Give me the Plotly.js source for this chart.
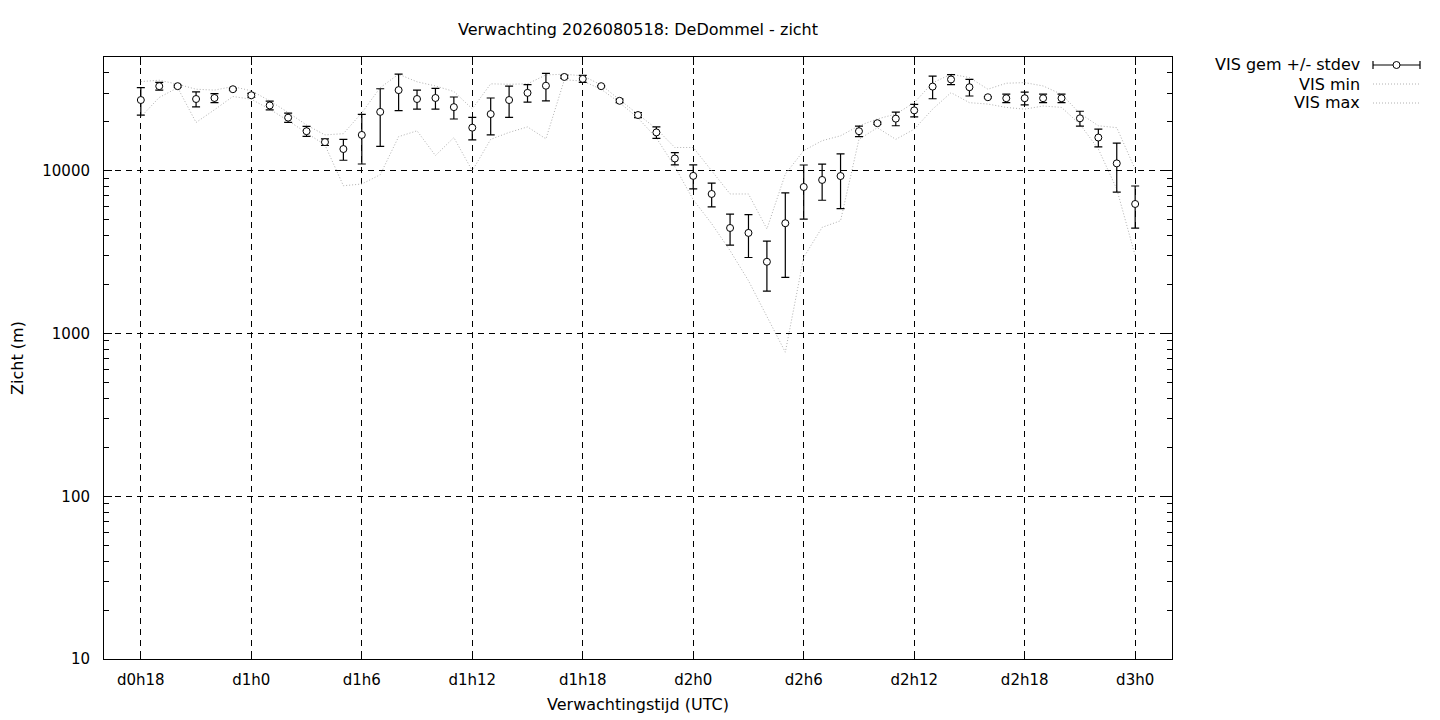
<!DOCTYPE html>
<html>
<head>
<meta charset="utf-8">
<script src="https://cdn.plot.ly/plotly-3.0.1.min.js"></script>
<style>
html,body{margin:0;padding:0;background:#fff;}
#chart{width:1440px;height:720px;}
</style>
</head>
<body>
<div id="chart"></div>
<script>
// ---- data ----
const hours = [18,19,20,21,22,23,24,25,26,27,28,29,30,31,32,33,34,35,36,37,38,39,40,41,42,43,44,45,46,47,48,49,50,51,52,53,54,55,56,57,58,59,60,61,62,63,64,65,66,67,68,69,70,71,72];

const visMean = [27200,33100,33100,27600,28000,31700,29100,25200,21200,17500,
                 15000,13600,16600,23000,31300,27600,28000,24600,18400,22300,
                 27200,30100,33300,37700,36700,33100,26900,22000,17200,11900,
                 9300,7200,4450,4150,2760,4760,7950,8780,9280,17500,
                 19600,20900,23500,32900,36400,32600,28300,27900,27900,27900,
                 27900,21000,16000,11100,6250];

const visStdev = [5200,1800,500,2900,1800,400,800,1550,1400,1250,
                  700,2000,5600,8900,7900,3700,4100,3800,2900,5700,
                  5900,3700,6400,800,1800,300,700,800,1400,1030,
                  1560,1200,960,1220,940,2550,2900,2190,3420,1300,
                  300,2000,2080,5200,2560,3800,300,1650,2500,1650,
                  1650,2200,2000,3700,1810];

const visMin = [21400,28200,32400,19800,23700,28600,27500,23900,20300,17200,
                14400,8090,8290,9450,16200,17600,12400,16000,10000,15600,
                17200,18600,15700,36200,35600,31700,26200,21100,15900,10600,
                6640,4730,3230,2110,1260,768,2940,4490,4930,15600,
                18400,15600,18000,23900,30200,26200,25700,24500,23900,25000,
                24500,19300,13600,7720,3010];

const visMax = [35300,36000,34000,31700,31300,32900,31000,26900,22800,19100,
                16600,16900,22700,32400,39200,35200,33200,30700,24000,34200,
                34000,34200,38800,39200,38300,33700,27300,22100,18100,13900,
                13900,10000,7200,7200,4390,9540,13300,15300,16400,18900,
                20800,22300,26200,34700,39200,37400,31700,34500,34800,33200,
                29500,22500,18900,18400,10200];

const xTickVals = [18,24,30,36,42,48,54,60,66,72];
const xTickText = ['d0h18','d1h0','d1h6','d1h12','d1h18','d2h0','d2h6','d2h12','d2h18','d3h0'];
const yTickVals = [10,100,1000,10000];
const yTickText = ['10','100','1000','10000'];
const yMinorVals = [20,30,40,50,60,70,80,90,200,300,400,500,600,700,800,900,
                    2000,3000,4000,5000,6000,7000,8000,9000,20000,30000,40000];

const legendLabels = ['VIS gem +/- stdev','VIS min','VIS max'];
const titleText = 'Verwachting 2026080518: DeDommel - zicht';
const xTitle = 'Verwachtingstijd (UTC)';
const yTitle = 'Zicht (m)';

// ---- styling ----
const FONT = 'DejaVu Sans';
const DOT_COLOR = '#b0b0b0';
const W = 1440, H = 720;
const M = {l:104, r:268, t:57, b:61};
const PW = W - M.l - M.r, PH = H - M.t - M.b;
const px = x => (x - M.l) / PW;          // legend placement helpers (pixels -> paper)
const py = y => (H - M.b - y) / PH;

const traces = [
  {x: hours, y: visMin, mode: 'lines', name: legendLabels[1], showlegend: false,
   line: {color: DOT_COLOR, width: 1, dash: '1px,2px'}, hoverinfo: 'skip'},
  {x: hours, y: visMax, mode: 'lines', name: legendLabels[2], showlegend: false,
   line: {color: DOT_COLOR, width: 1, dash: '1px,2px'}, hoverinfo: 'skip'},
  {x: hours, y: visMean, mode: 'markers', name: legendLabels[0], showlegend: false,
   marker: {symbol: 'circle', size: 7, color: 'white', line: {color: 'black', width: 1}},
   error_y: {type: 'data', array: visStdev, symmetric: true, color: 'black', thickness: 1.2, width: 4}}
];

// manual legend (gnuplot style: text right-aligned, sample on the right)
const legRows = [65, 84, 103];
const legTextX = 1362, legS0 = 1373, legS1 = 1420;
const annotations = legendLabels.map((t, i) => ({
  text: t, xref: 'paper', yref: 'paper', x: px(legTextX), y: py(legRows[i]),
  xanchor: 'right', yanchor: 'middle', showarrow: false,
  font: {family: FONT, size: 16, color: 'black'}
}));
const shapes = [
  {type: 'line', xref: 'paper', yref: 'paper', x0: px(legS0), x1: px(legS1), y0: py(legRows[0]), y1: py(legRows[0]), line: {color: 'black', width: 1.2}},
  {type: 'line', xref: 'paper', yref: 'paper', x0: px(legS0), x1: px(legS0), y0: py(legRows[0]-4), y1: py(legRows[0]+4), line: {color: 'black', width: 1.2}},
  {type: 'line', xref: 'paper', yref: 'paper', x0: px(legS1), x1: px(legS1), y0: py(legRows[0]-4), y1: py(legRows[0]+4), line: {color: 'black', width: 1.2}},
  {type: 'circle', xref: 'paper', yref: 'paper', x0: px(1393), x1: px(1400), y0: py(legRows[0]-3.5), y1: py(legRows[0]+3.5), fillcolor: 'white', line: {color: 'black', width: 1}},
  {type: 'line', xref: 'paper', yref: 'paper', x0: px(legS0), x1: px(legS1), y0: py(legRows[1]), y1: py(legRows[1]), line: {color: DOT_COLOR, width: 1, dash: '1px,2px'}},
  {type: 'line', xref: 'paper', yref: 'paper', x0: px(legS0), x1: px(legS1), y0: py(legRows[2]), y1: py(legRows[2]), line: {color: DOT_COLOR, width: 1, dash: '1px,2px'}}
];

const layout = {
  width: W, height: H,
  margin: M,
  paper_bgcolor: 'white', plot_bgcolor: 'white',
  font: {family: FONT, size: 15, color: 'black'},
  showlegend: false,
  title: {text: titleText, font: {family: FONT, size: 16, color: 'black'},
          x: 0.5, xref: 'paper', y: 1 - 29 / H, yref: 'container', xanchor: 'center', yanchor: 'middle'},
  xaxis: {
    range: [16, 74], tickmode: 'array', tickvals: xTickVals, ticktext: xTickText,
    ticks: 'inside', ticklen: 8, tickcolor: 'black', tickwidth: 1,
    showline: true, linecolor: 'black', linewidth: 1, mirror: 'ticks',
    showgrid: true, gridcolor: 'black', gridwidth: 1, griddash: '6px,5px',
    zeroline: false, ticklabelstandoff: 7,
    tickfont: {family: FONT, size: 15, color: 'black'},
    title: {text: xTitle, font: {family: FONT, size: 16, color: 'black'}, standoff: 10}
  },
  yaxis: {
    type: 'log', range: [1, Math.log10(50000)],
    tickmode: 'array', tickvals: yTickVals, ticktext: yTickText,
    ticks: 'inside', ticklen: 8, tickcolor: 'black', tickwidth: 1,
    minor: {tickmode: 'array', tickvals: yMinorVals, ticks: 'inside', ticklen: 5, tickcolor: 'black', tickwidth: 1, showgrid: false},
    showline: true, linecolor: 'black', linewidth: 1, mirror: 'ticks',
    showgrid: true, gridcolor: 'black', gridwidth: 1, griddash: '6px,5px',
    zeroline: false, ticklabelstandoff: 10,
    tickfont: {family: FONT, size: 15, color: 'black'},
    title: {text: yTitle, font: {family: FONT, size: 16, color: 'black'}, standoff: 14}
  },
  annotations: annotations,
  shapes: shapes
};

Plotly.newPlot('chart', traces, layout, {displayModeBar: false, staticPlot: true});
</script>
</body>
</html>
